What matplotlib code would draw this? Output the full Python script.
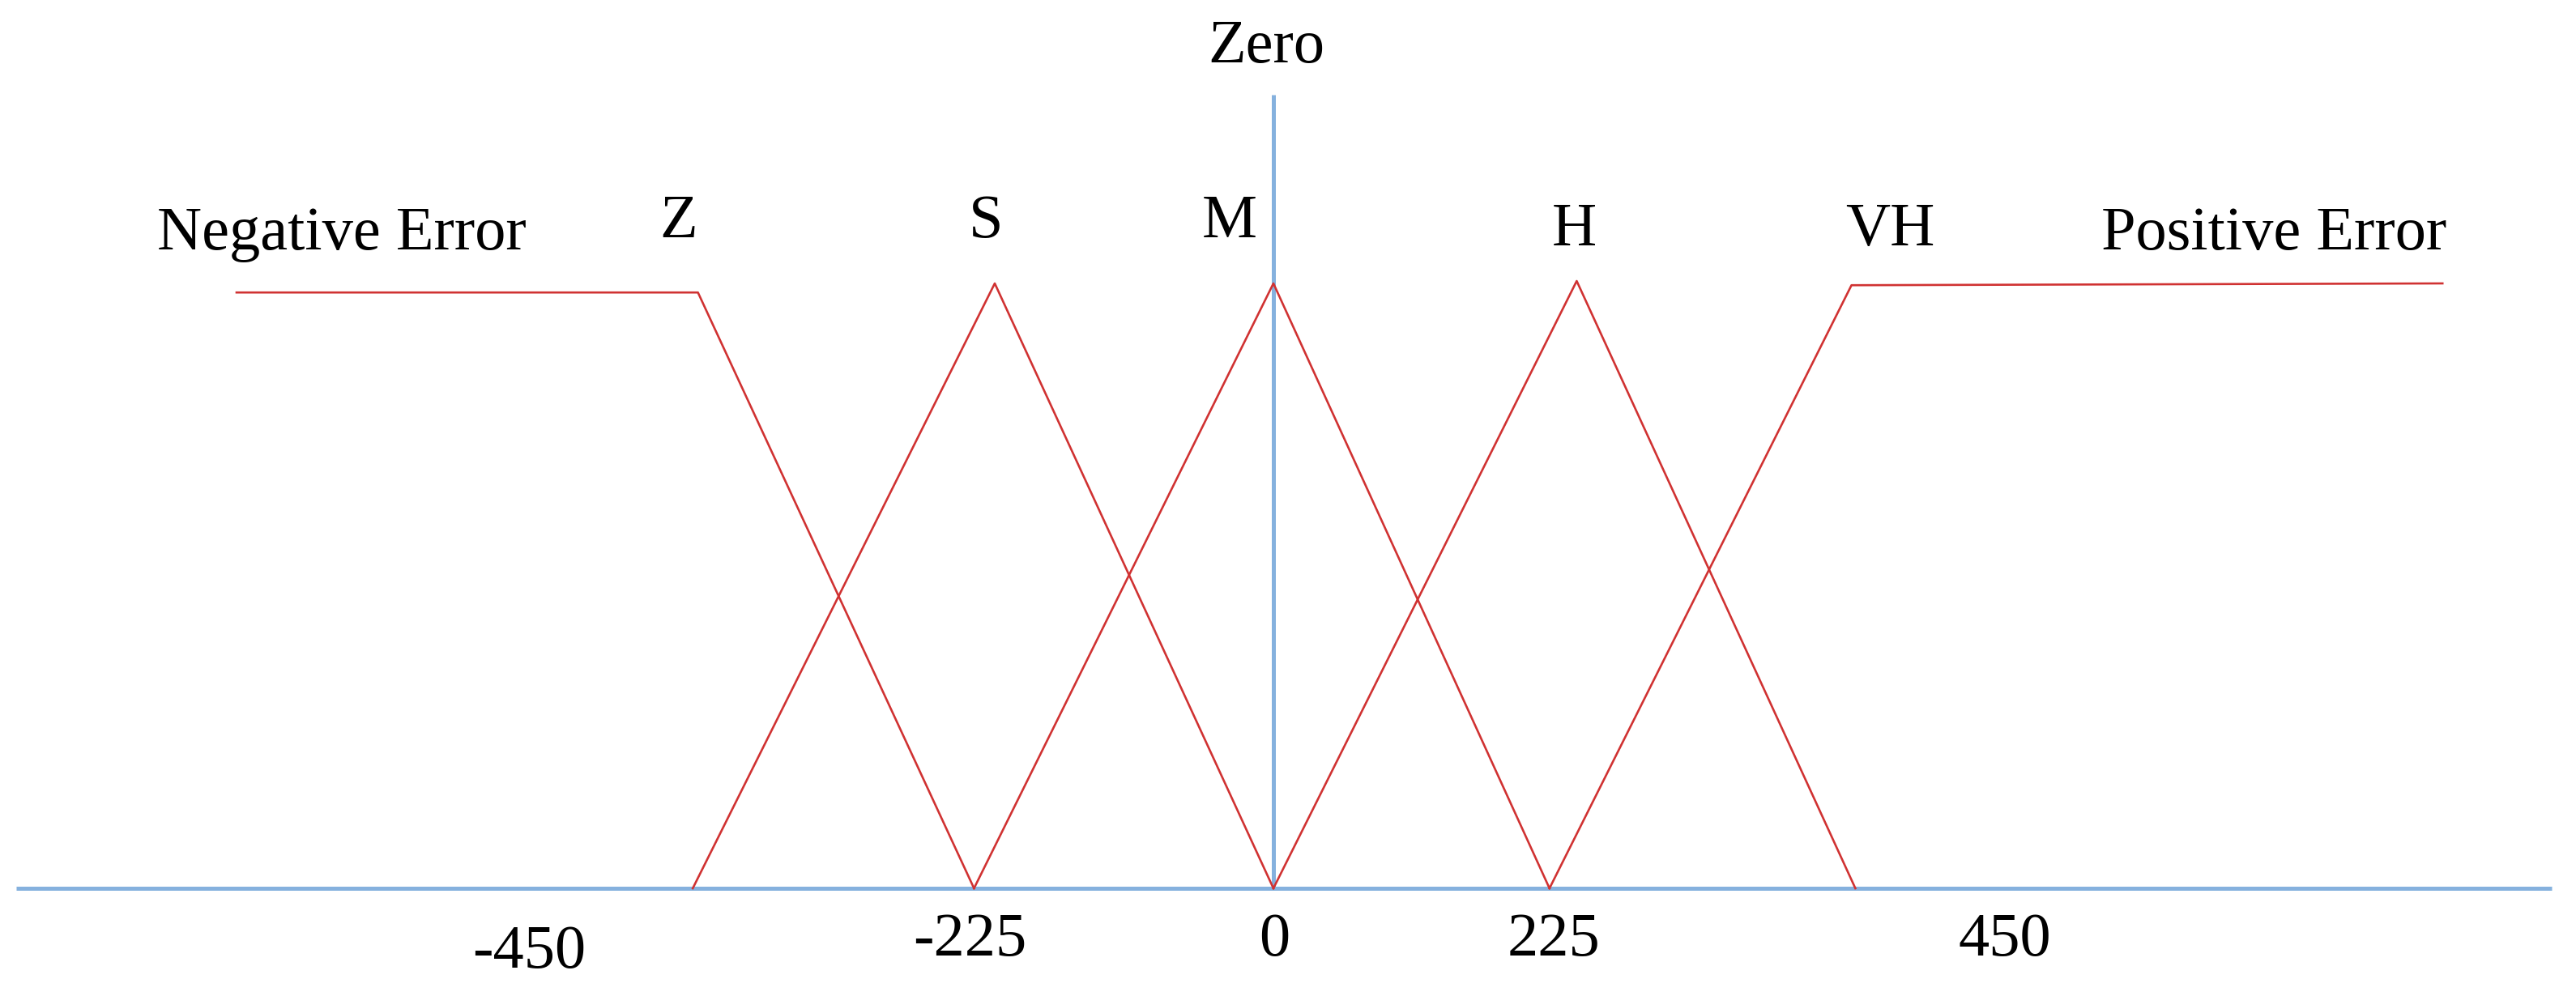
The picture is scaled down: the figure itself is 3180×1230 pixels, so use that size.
import matplotlib.pyplot as plt

# membership functions (error value, membership degree)
neg_x = [-800, -444, -231]
neg_y = [0.985, 0.985, 0]
s_x = [-448, -215, 0]
s_y = [0, 1, 0]
m_x = [-231, 0, 213]
m_y = [0, 1, 0]
h_x = [0, 234, 449]
h_y = [0, 1.004, 0]
vh_x = [213, 446, 902]
vh_y = [0, 0.997, 1.0]

# axis extent
axis_x = [-970, 986]
axis_top = 1.312

tick_labels = ['-450', '-225', '0', '225', '450']
# where the labels sit in the drawing (they are not exactly under their values)
tick_label_x = [-574, -234, 1, 216, 564]
tick_label_y = [-0.131, -0.111, -0.111, -0.111, -0.111]

# set names and their label positions
set_names = ['Negative Error', 'Z', 'S', 'M', 'H', 'VH', 'Positive Error']
set_name_x = [-719, -459, -222, -34, 232, 476, 772]
set_name_y = [1.056, 1.076, 1.076, 1.076, 1.063, 1.063, 1.056]

red = '#D03232'
blue = '#85B1DE'

plt.rcParams['font.family'] = ['Liberation Serif', 'DejaVu Serif']

fig = plt.figure(figsize=(31.8, 12.3), dpi=100)
ax = fig.add_axes([0, 0, 1, 1])
ax.set_xlim(-982.5, 1005)
ax.set_ylim(-0.178, 1.4685)
ax.axis('off')

# blue axes
ax.plot(axis_x, [0, 0], color=blue, lw=3.6, solid_capstyle='butt', zorder=1)
ax.plot([0, 0], [0, axis_top], color=blue, lw=3.6, solid_capstyle='butt', zorder=1)

# membership functions
for xs, ys in [(neg_x, neg_y), (s_x, s_y), (m_x, m_y), (h_x, h_y), (vh_x, vh_y)]:
    ax.plot(xs, ys, color=red, lw=1.9, zorder=2)

fs = 55
ax.text(-5.6, 1.365, 'Zero', ha='center', va='baseline', fontsize=fs)
for name, x, y in zip(set_names, set_name_x, set_name_y):
    ax.text(x, y, name, ha='center', va='baseline', fontsize=fs)
for lab, x, y in zip(tick_labels, tick_label_x, tick_label_y):
    ax.text(x, y, lab, ha='center', va='baseline', fontsize=fs)

fig.savefig('out.png', dpi=100, facecolor='white')
